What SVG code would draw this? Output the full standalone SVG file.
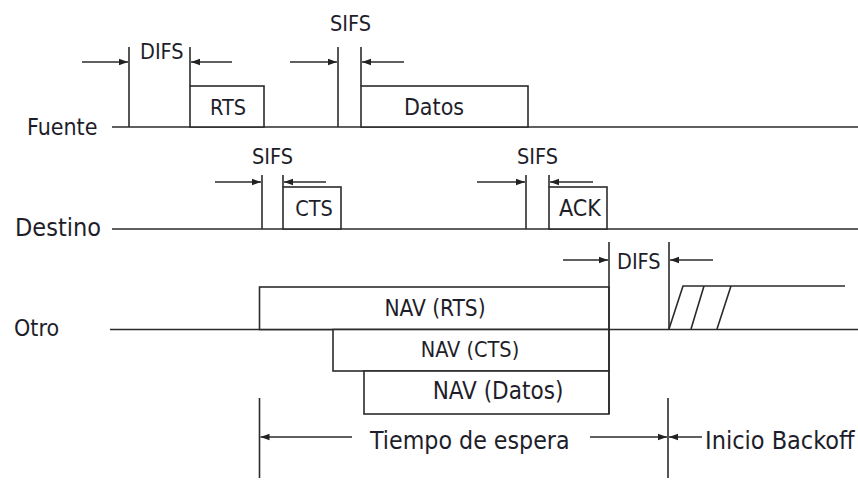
<svg xmlns="http://www.w3.org/2000/svg" width="858" height="481" viewBox="0 0 858 481">
<defs>
<marker id="ah" markerWidth="10" markerHeight="8" refX="9" refY="4" orient="auto" markerUnits="userSpaceOnUse">
<path d="M0,0.8 L9,4 L0,7.2 Z" fill="#222"/>
</marker>
<style>
.ln{stroke:#2b2b2b;stroke-width:1.6;fill:none}
.bx{stroke:#2b2b2b;stroke-width:1.6;fill:#fff}
.ar{stroke:#2b2b2b;stroke-width:1.4;fill:none;marker-end:url(#ah)}
text{font-family:"DejaVu Sans Condensed","DejaVu Sans","Liberation Sans",sans-serif;font-stretch:condensed;fill:#1e1e2a}
.lb{font-size:23px}
.sm{font-size:21.5px}
</style>
</defs>
<rect width="858" height="481" fill="#fff"/>

<g id="timelines">
<line class="ln" x1="112" y1="127" x2="858" y2="127"/>
<line class="ln" x1="112" y1="229" x2="858" y2="229"/>
<line class="ln" x1="110" y1="329.5" x2="858" y2="329.5"/>
</g>

<g id="fuente"><text class="lb" x="27" y="135">Fuente</text></g>
<g id="destino"><text class="lb" x="15" y="236" style="font-size:25px">Destino</text></g>
<g id="otro"><text class="lb" x="14" y="336">Otro</text></g>

<g id="rts"><rect class="bx" x="190" y="86" width="74" height="41"/><text class="sm" x="228" y="115" text-anchor="middle">RTS</text></g>
<g id="datos"><rect class="bx" x="361" y="86" width="167" height="41"/><text class="lb" x="434" y="115" text-anchor="middle">Datos</text></g>
<g id="cts"><rect class="bx" x="283" y="187" width="58" height="42"/><text class="sm" x="314" y="216" text-anchor="middle">CTS</text></g>
<g id="ack"><rect class="bx" x="549" y="187" width="58" height="42"/><text class="lb" x="580" y="216" text-anchor="middle">ACK</text></g>

<g id="nav-rts"><rect class="bx" x="259.5" y="287" width="349.5" height="42.5"/><text class="sm" x="435" y="316" text-anchor="middle" style="font-size:22.5px">NAV (RTS)</text></g>
<g id="nav-cts"><rect class="bx" x="333" y="329.5" width="276" height="41.5"/><text class="sm" x="470" y="357" text-anchor="middle">NAV (CTS)</text></g>
<g id="nav-datos"><rect class="bx" x="364" y="371" width="245" height="43"/><text class="sm" x="498" y="399" text-anchor="middle" style="font-size:24px">NAV (Datos)</text></g>

<g id="backoff">
<path class="ln" d="M669,329 L683,286 L845,286 M691,329 L704,286 M717,329 L731,286"/>
</g>

<g id="connectors">
<line class="ln" x1="129" y1="47" x2="129" y2="127"/>
<line class="ln" x1="190" y1="47" x2="190" y2="86"/>
<line class="ar" x1="82" y1="62" x2="128" y2="62"/>
<line class="ar" x1="232" y1="62" x2="191" y2="62"/>
<line class="ln" x1="338" y1="47" x2="338" y2="127"/>
<line class="ln" x1="361" y1="47" x2="361" y2="86"/>
<line class="ar" x1="290" y1="62" x2="337" y2="62"/>
<line class="ar" x1="404" y1="62" x2="362" y2="62"/>
<line class="ln" x1="262" y1="175" x2="262" y2="229"/>
<line class="ln" x1="283" y1="175" x2="283" y2="187"/>
<line class="ar" x1="215" y1="182" x2="261" y2="182"/>
<line class="ar" x1="326" y1="182" x2="284" y2="182"/>
<line class="ln" x1="526" y1="175" x2="526" y2="229"/>
<line class="ln" x1="549" y1="175" x2="549" y2="187"/>
<line class="ar" x1="477" y1="182" x2="525" y2="182"/>
<line class="ar" x1="593" y1="182" x2="550" y2="182"/>
<line class="ln" x1="609" y1="242" x2="609" y2="414"/>
<line class="ln" x1="669" y1="242" x2="669" y2="329"/>
<line class="ar" x1="563" y1="260" x2="608" y2="260"/>
<line class="ar" x1="713" y1="260" x2="670" y2="260"/>
<line class="ln" x1="259.5" y1="398" x2="259.5" y2="478"/>
<line class="ln" x1="668" y1="398" x2="668" y2="478"/>
<line class="ar" x1="352" y1="437" x2="260.5" y2="437"/>
<line class="ar" x1="590" y1="437" x2="667" y2="437"/>
<line class="ar" x1="702" y1="437" x2="669" y2="437"/>
</g>

<g id="labels">
<text class="sm" x="140" y="59">DIFS</text>
<text class="sm" x="330" y="31">SIFS</text>
<text class="sm" x="252" y="164">SIFS</text>
<text class="sm" x="517" y="164">SIFS</text>
<text class="sm" x="617" y="269">DIFS</text>
<text class="lb" x="370" y="449" style="font-size:24.7px">Tiempo de espera</text>
<text class="lb" x="705" y="449" style="font-size:25px">Inicio Backoff</text>
</g>
</svg>
